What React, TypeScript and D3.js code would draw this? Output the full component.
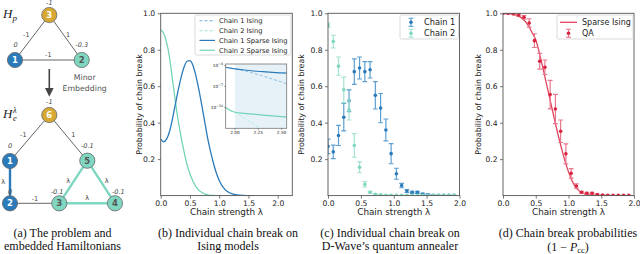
import * as d3 from "d3";
import { useEffect, useRef } from "react";

const SANS = "'DejaVu Sans', sans-serif";
const SERIF = "'Liberation Serif', 'Times New Roman', serif";

const blue = "#2b7bba";
const blueLight = "#8cc0e4";
const blueErr = "#5c9fd2";
const teal = "#72d4b8";
const tealLight = "#b2e9da";
const tealErr = "#a3e2d1";
const red = "#d8243f";
const redLine = "#e0445f";
const redErr = "#e9788c";
const gold = "#d8a932";
const nodeTeal = "#7fd6c1";

// (b) chain break on the sparse Ising models
const lambdaB = [0, 0.05, 0.1, 0.15, 0.2, 0.25, 0.3, 0.35, 0.4, 0.45, 0.5, 0.55, 0.6, 0.65, 0.7, 0.75, 0.8, 0.85, 0.9, 0.95, 1.0, 1.1, 1.2, 1.3, 1.4, 1.5, 1.6];
const chain1Sparse = [0.31, 0.295, 0.31, 0.35, 0.42, 0.5, 0.58, 0.65, 0.705, 0.737, 0.74, 0.715, 0.66, 0.585, 0.5, 0.41, 0.32, 0.245, 0.18, 0.125, 0.083, 0.033, 0.012, 0.004, 0.001, 0.0003, 0];
const chain2Sparse = [0.91, 0.89, 0.84, 0.76, 0.64, 0.52, 0.41, 0.32, 0.24, 0.17, 0.12, 0.08, 0.05, 0.03, 0.018, 0.009, 0.004, 0.0015, 0.0005, 0, 0, 0, 0, 0, 0, 0, 0];

// (b) inset, log scale
const lambdaInset = [1.9, 1.95, 2.0, 2.1, 2.2, 2.3, 2.4, 2.5, 2.56];
const inChain1Sparse = [5.5e-5, 4.0e-5, 3.2e-5, 2.2e-5, 1.6e-5, 1.26e-5, 1.0e-5, 8.5e-6, 7.8e-6];
const inChain1Ising = [5.5e-5, 4.0e-5, 3.2e-5, 1.66e-5, 7.6e-6, 3.0e-6, 1.15e-6, 4.2e-7, 2.3e-7];
const inChain2Sparse = [9.3e-11, 3.5e-11, 2.0e-11, 1.4e-11, 1.07e-11, 7.9e-12, 6.0e-12, 4.6e-12, 4.0e-12];
const inChain2Ising = [9.3e-11, 3.5e-11, 2.0e-11, 2.8e-12, 4.0e-13, 5.6e-14, 8e-15, 1e-15, 5e-16];
const insetYTicks = [1e-4, 1e-7, 1e-10];
const insetXTicks = [2.0, 2.25, 2.5];

// (c), (d) D-Wave runs
const lambdaQA = [0, 0.08, 0.16, 0.24, 0.32, 0.4, 0.48, 0.56, 0.64, 0.72, 0.8, 0.88, 0.96, 1.04, 1.12, 1.2, 1.28, 1.36, 1.44, 1.52, 1.6, 1.68, 1.76, 1.84, 1.92];
const chain1Mean = [0.27, 0.24, 0.33, 0.43, 0.52, 0.68, 0.7, 0.68, 0.69, 0.55, 0.48, 0.36, 0.23, 0.12, 0.055, 0.025, 0.018, 0.018, 0.009, 0.005, 0.002, 0.001, 0.001, 0.001, 0.001];
const chain1Err = [0.04, 0.037, 0.055, 0.075, 0.06, 0.07, 0.06, 0.055, 0.045, 0.075, 0.08, 0.06, 0.055, 0.03, 0.012, 0.008, 0.006, 0.006, 0.004, 0.003, 0.002, 0.001, 0.001, 0.001, 0.001];
const chain2Mean = [0.935, 0.845, 0.71, 0.58, 0.47, 0.275, 0.155, 0.062, 0.018, 0.007, 0.004, 0.002, 0.002, 0.001, 0.001, 0.001, 0.001, 0.001, 0.001, 0.001, 0.001, 0.001, 0.001, 0.001, 0.001];
const chain2Err = [0.012, 0.035, 0.05, 0.07, 0.055, 0.065, 0.03, 0.015, 0.005, 0.003, 0.002, 0.001, 0.001, 0.001, 0.001, 0.001, 0.001, 0.001, 0.001, 0.001, 0.001, 0.001, 0.001, 0.001, 0.001];
const qaMean = [1.0, 1.0, 0.997, 0.99, 0.978, 0.947, 0.85, 0.737, 0.704, 0.554, 0.475, 0.353, 0.229, 0.122, 0.053, 0.018, 0.013, 0.013, 0.006, 0.003, 0.002, 0.001, 0.001, 0.001, 0.001];
const qaErr = [0.003, 0.003, 0.005, 0.007, 0.01, 0.023, 0.038, 0.043, 0.04, 0.078, 0.08, 0.062, 0.055, 0.026, 0.012, 0.006, 0.005, 0.005, 0.003, 0.002, 0.001, 0.001, 0.001, 0.001, 0.001];

// (d) sparse Ising prediction
const lambdaD = [0, 0.1, 0.2, 0.3, 0.4, 0.45, 0.5, 0.55, 0.6, 0.65, 0.7, 0.75, 0.8, 0.85, 0.9, 0.95, 1.0, 1.05, 1.1, 1.15, 1.2, 1.3, 1.4, 1.5, 2.0];
const sparseD = [1.0, 0.998, 0.99, 0.97, 0.925, 0.89, 0.855, 0.79, 0.715, 0.635, 0.555, 0.475, 0.395, 0.32, 0.25, 0.185, 0.13, 0.085, 0.052, 0.03, 0.016, 0.005, 0.0015, 0, 0];

const xTicks = [0, 0.5, 1.0, 1.5, 2.0];
const yTicks = [0.2, 0.4, 0.6, 0.8, 1.0];

// (a) graph layout
const nodesTop = [
  { id: "3", x: 49.3, y: 15, fill: gold, text: "#fff" },
  { id: "1", x: 15, y: 60, fill: blue, text: "#fff" },
  { id: "2", x: 81.7, y: 60, fill: nodeTeal, text: "#555" },
];
const nodesBottom = [
  { id: "6", x: 49.3, y: 115, fill: gold, text: "#fff" },
  { id: "1", x: 10, y: 161, fill: blue, text: "#fff" },
  { id: "2", x: 10, y: 203.3, fill: blue, text: "#fff" },
  { id: "3", x: 59.3, y: 203.3, fill: nodeTeal, text: "#555" },
  { id: "4", x: 115, y: 203.3, fill: nodeTeal, text: "#555" },
  { id: "5", x: 87.3, y: 160.7, fill: nodeTeal, text: "#555" },
];

type Box = { left: number; right: number; top: number; bottom: number };
const boxB: Box = { left: 160.7, right: 292.3, top: 13.3, bottom: 195.6 };
const boxC: Box = { left: 328, right: 459.5, top: 13.3, bottom: 195.6 };
const boxD: Box = { left: 503, right: 634, top: 13.3, bottom: 195.6 };

const App = () => {
  const ref = useRef<SVGSVGElement>(null);

  useEffect(() => {
    const svg = d3.select(ref.current);
    svg.selectAll("*").remove();
    const defs = svg.append("defs");

    const clip = (id: string, b: Box) => {
      defs.append("clipPath").attr("id", id).append("rect")
        .attr("x", b.left).attr("y", b.top).attr("width", b.right - b.left).attr("height", b.bottom - b.top);
    };

    const axes = (g: any, x: any, y: any, b: Box, labelX: number) => {
      g.append("rect").attr("x", b.left).attr("y", b.top).attr("width", b.right - b.left)
        .attr("height", b.bottom - b.top).attr("fill", "none").attr("stroke", "#555").attr("stroke-width", 0.9);
      const xa = g.append("g").attr("transform", `translate(0,${b.bottom})`)
        .call(d3.axisBottom(x).tickValues(xTicks).tickFormat(d3.format(".1f")).tickSize(3).tickPadding(2));
      const ya = g.append("g").attr("transform", `translate(${b.left},0)`)
        .call(d3.axisLeft(y).tickValues(yTicks).tickFormat(d3.format(".1f")).tickSize(3).tickPadding(2.5));
      [xa, ya].forEach((a) => {
        a.select(".domain").remove();
        a.attr("font-family", SANS).attr("font-size", 7.6);
        a.selectAll("line").attr("stroke", "#555").attr("stroke-width", 0.8);
        a.selectAll("text").attr("fill", "#222");
      });
      g.append("text").attr("x", (b.left + b.right) / 2).attr("y", 214.5).attr("text-anchor", "middle")
        .attr("font-family", SANS).attr("font-size", 8.8).attr("fill", "#222").text("Chain strength λ");
      g.append("text").attr("transform", `translate(${labelX},${(b.top + b.bottom) / 2}) rotate(-90)`)
        .attr("text-anchor", "middle").attr("font-family", SANS).attr("font-size", 7.9).attr("fill", "#222")
        .text("Probability of chain break");
    };

    const errorBars = (g: any, x: any, y: any, ms: number[], es: number[], color: string, light: string) => {
      const pts = lambdaQA.map((l, i) => ({ l, m: ms[i], e: es[i] }));
      const cap = 2.4;
      const s = g.append("g").selectAll("g").data(pts).join("g");
      s.append("line").attr("x1", (d: any) => x(d.l)).attr("x2", (d: any) => x(d.l))
        .attr("y1", (d: any) => y(d.m - d.e)).attr("y2", (d: any) => y(d.m + d.e))
        .attr("stroke", light).attr("stroke-width", 1.2);
      [-1, 1].forEach((sgn) => {
        s.append("line").attr("x1", (d: any) => x(d.l) - cap).attr("x2", (d: any) => x(d.l) + cap)
          .attr("y1", (d: any) => y(d.m + sgn * d.e)).attr("y2", (d: any) => y(d.m + sgn * d.e))
          .attr("stroke", light).attr("stroke-width", 1.1);
      });
      s.append("circle").attr("cx", (d: any) => x(d.l)).attr("cy", (d: any) => y(d.m))
        .attr("r", 1.8).attr("fill", color);
    };

    const legendBox = (g: any, x0: number, y0: number, w: number, h: number) => {
      g.append("rect").attr("x", x0).attr("y", y0).attr("width", w).attr("height", h).attr("rx", 1.5)
        .attr("fill", "#fff").attr("fill-opacity", 0.85).attr("stroke", "#d0d0d0").attr("stroke-width", 0.8);
    };

    const errMarker = (g: any, cx: number, cy: number, color: string, light: string) => {
      g.append("line").attr("x1", cx).attr("x2", cx).attr("y1", cy - 4).attr("y2", cy + 4).attr("stroke", light).attr("stroke-width", 1.2);
      [-4, 4].forEach((d) => g.append("line").attr("x1", cx - 2.4).attr("x2", cx + 2.4).attr("y1", cy + d).attr("y2", cy + d)
        .attr("stroke", light).attr("stroke-width", 1.1));
      g.append("circle").attr("cx", cx).attr("cy", cy).attr("r", 1.8).attr("fill", color);
    };

    // ---------- (a) graph ----------
    const ga = svg.append("g");
    const edge = (a: any, b: any, color: string, w: number) =>
      ga.append("line").attr("x1", a.x).attr("y1", a.y).attr("x2", b.x).attr("y2", b.y).attr("stroke", color).attr("stroke-width", w);
    const nt = (id: string) => nodesTop.find((n) => n.id === id);
    const nb = (id: string) => nodesBottom.find((n) => n.id === id);
    edge(nt("3"), nt("1"), "#666", 1);
    edge(nt("3"), nt("2"), "#666", 1);
    edge(nt("1"), nt("2"), "#666", 1);
    edge(nb("6"), nb("1"), "#666", 1);
    edge(nb("6"), nb("5"), "#666", 1);
    edge(nb("2"), nb("3"), "#666", 1);
    edge(nb("1"), nb("2"), blue, 2.4);
    edge(nb("3"), nb("4"), nodeTeal, 2.4);
    edge(nb("3"), nb("5"), nodeTeal, 2.4);
    edge(nb("4"), nb("5"), nodeTeal, 2.4);
    [...nodesTop, ...nodesBottom].forEach((n) => {
      ga.append("circle").attr("cx", n.x).attr("cy", n.y).attr("r", 7.6).attr("fill", n.fill).attr("stroke", "#666").attr("stroke-width", 0.8);
      ga.append("text").attr("x", n.x).attr("y", n.y + 3).attr("text-anchor", "middle").attr("font-family", SANS)
        .attr("font-size", 8.5).attr("font-weight", "bold").attr("fill", n.text).text(n.id);
    });
    const lab = (x: number, y: number, t: string, italic = false) =>
      ga.append("text").attr("x", x).attr("y", y).attr("text-anchor", "middle").attr("font-family", SANS)
        .attr("font-size", 6.5).attr("font-style", italic ? "italic" : "normal").attr("fill", "#444").text(t);
    lab(49.3, 5, "-1", true);
    lab(15.5, 47, "0", true);
    lab(81.7, 47, "-0.3", true);
    lab(26.3, 36.5, "-1");
    lab(68, 36.5, "1");
    lab(48.3, 56.5, "-1");
    lab(49.3, 104, "-1", true);
    lab(23.3, 137, "-1");
    lab(73.3, 137, "1");
    lab(10, 147.5, "0", true);
    lab(87.3, 147.5, "-0.1", true);
    lab(3.3, 183.5, "λ");
    lab(10, 193.5, "0", true);
    lab(57, 193.5, "-0.1", true);
    lab(118.3, 193.5, "-0.1", true);
    lab(68.3, 183, "λ");
    lab(106.7, 183, "λ");
    lab(87.3, 200, "λ");
    lab(35, 201, "-1");
    ga.append("text").attr("x", 84.7).attr("y", 80).attr("text-anchor", "middle").attr("font-family", SANS)
      .attr("font-size", 7.8).attr("fill", "#555").text("Minor");
    ga.append("text").attr("x", 84.7).attr("y", 90.7).attr("text-anchor", "middle").attr("font-family", SANS)
      .attr("font-size", 7.8).attr("fill", "#555").text("Embedding");
    ga.append("line").attr("x1", 49.3).attr("x2", 49.3).attr("y1", 69).attr("y2", 89).attr("stroke", "#444").attr("stroke-width", 1.6);
    ga.append("path").attr("d", "M45,88 L53.6,88 L49.3,96.7 Z").attr("fill", "#444");
    const hp = ga.append("text").attr("x", 3).attr("y", 18).attr("font-family", SERIF).attr("font-style", "italic")
      .attr("font-size", 13).attr("fill", "#222");
    hp.append("tspan").text("H");
    hp.append("tspan").attr("font-size", 9).attr("dy", 3).text("p");
    const he = ga.append("text").attr("y", 118).attr("font-family", SERIF).attr("font-style", "italic")
      .attr("font-size", 13).attr("fill", "#222");
    he.append("tspan").attr("x", 3).text("H");
    he.append("tspan").attr("x", 13).attr("dy", -5.5).attr("font-size", 8.5).text("λ");
    he.append("tspan").attr("x", 13).attr("dy", 8.5).attr("font-size", 8.5).text("e");

    // ---------- (b) ----------
    clip("clipB", boxB);
    const gb = svg.append("g");
    const xb = d3.scaleLinear().domain([0, 2.25]).range([boxB.left, boxB.right]);
    const yb = d3.scaleLinear().domain([0, 1]).range([boxB.bottom, boxB.top]);
    const lineB = (ys: number[]) => d3.line<number>().x((_, i) => xb(lambdaB[i])).y((d) => yb(d)).curve(d3.curveMonotoneX)(ys);
    const pb = gb.append("g").attr("clip-path", "url(#clipB)");
    pb.append("path").attr("d", lineB(chain2Sparse)).attr("fill", "none").attr("stroke", teal).attr("stroke-width", 1.3);
    pb.append("path").attr("d", lineB(chain1Sparse)).attr("fill", "none").attr("stroke", blue).attr("stroke-width", 1.3);
    axes(gb, xb, yb, boxB, 141.5);

    legendBox(gb, 195, 15, 96, 40);
    const legB = [
      { t: "Chain 1 Ising", c: blueLight, dash: "3,2" },
      { t: "Chain 2 Ising", c: tealLight, dash: "3,2" },
      { t: "Chain 1 Sparse Ising", c: blue, dash: null },
      { t: "Chain 2 Sparse Ising", c: teal, dash: null },
    ];
    legB.forEach((d, i) => {
      const cy = 20.7 + i * 9.85;
      gb.append("line").attr("x1", 199.5).attr("x2", 215).attr("y1", cy).attr("y2", cy).attr("stroke", d.c)
        .attr("stroke-width", 1.2).attr("stroke-dasharray", d.dash);
      gb.append("text").attr("x", 219).attr("y", cy + 2.4).attr("font-family", SANS).attr("font-size", 6.7)
        .attr("fill", "#222").text(d.t);
    });

    // inset
    const boxI: Box = { left: 225.7, right: 286.7, top: 64, bottom: 128.3 };
    clip("clipI", boxI);
    const xi = d3.scaleLinear().domain([1.9, 2.555]).range([boxI.left, boxI.right]);
    const yi = d3.scaleLog().domain([1e-13, 1.6e-4]).range([boxI.bottom, boxI.top]);
    gb.append("rect").attr("x", boxI.left).attr("y", boxI.top).attr("width", boxI.right - boxI.left)
      .attr("height", boxI.bottom - boxI.top).attr("fill", "#fff");
    gb.append("rect").attr("x", xi(2.0)).attr("y", boxI.top).attr("width", boxI.right - xi(2.0))
      .attr("height", boxI.bottom - boxI.top).attr("fill", "#e7f1f8");
    const pi = gb.append("g").attr("clip-path", "url(#clipI)");
    const lineI = (ys: number[]) => d3.line<number>().x((_, i) => xi(lambdaInset[i])).y((d) => yi(d)).curve(d3.curveMonotoneX)(ys);
    pi.append("path").attr("d", lineI(inChain1Ising)).attr("fill", "none").attr("stroke", blueLight).attr("stroke-width", 1).attr("stroke-dasharray", "3,2");
    pi.append("path").attr("d", lineI(inChain2Ising)).attr("fill", "none").attr("stroke", tealLight).attr("stroke-width", 1).attr("stroke-dasharray", "3,2");
    pi.append("path").attr("d", lineI(inChain1Sparse)).attr("fill", "none").attr("stroke", blue).attr("stroke-width", 1.2);
    pi.append("path").attr("d", lineI(inChain2Sparse)).attr("fill", "none").attr("stroke", teal).attr("stroke-width", 1.2);
    gb.append("rect").attr("x", boxI.left).attr("y", boxI.top).attr("width", boxI.right - boxI.left)
      .attr("height", boxI.bottom - boxI.top).attr("fill", "none").attr("stroke", "#777").attr("stroke-width", 0.8);
    insetYTicks.forEach((v) => {
      gb.append("line").attr("x1", boxI.left - 1.5).attr("x2", boxI.left).attr("y1", yi(v)).attr("y2", yi(v)).attr("stroke", "#555").attr("stroke-width", 0.6);
      const t = gb.append("text").attr("x", boxI.left - 2.5).attr("y", yi(v) + 1.5).attr("text-anchor", "end")
        .attr("font-family", SANS).attr("font-size", 4.3).attr("fill", "#222");
      t.append("tspan").text("10");
      t.append("tspan").attr("dy", -1.8).attr("font-size", 3.3).text("−" + Math.round(-Math.log10(v)));
    });
    insetXTicks.forEach((v) => {
      gb.append("line").attr("x1", xi(v)).attr("x2", xi(v)).attr("y1", boxI.bottom).attr("y2", boxI.bottom + 1.5).attr("stroke", "#555").attr("stroke-width", 0.6);
      gb.append("text").attr("x", xi(v)).attr("y", boxI.bottom + 5.8).attr("text-anchor", "middle")
        .attr("font-family", SANS).attr("font-size", 4.3).attr("fill", "#222").text(d3.format(".2f")(v));
    });

    // ---------- (c) ----------
    clip("clipC", boxC);
    const gc = svg.append("g");
    const xc = d3.scaleLinear().domain([0, 2.0]).range([boxC.left, boxC.right]);
    const yc = d3.scaleLinear().domain([0, 1]).range([boxC.bottom, boxC.top]);
    const pc = gc.append("g").attr("clip-path", "url(#clipC)");
    errorBars(pc, xc, yc, chain1Mean, chain1Err, blue, blueErr);
    errorBars(pc, xc, yc, chain2Mean, chain2Err, nodeTeal, tealErr);
    axes(gc, xc, yc, boxC, 304);
    legendBox(gc, 400, 15, 58.5, 24);
    errMarker(gc, 411, 22.3, blue, blueErr);
    errMarker(gc, 411, 33.3, nodeTeal, tealErr);
    gc.append("text").attr("x", 424).attr("y", 25.2).attr("font-family", SANS).attr("font-size", 8.2).attr("fill", "#222").text("Chain 1");
    gc.append("text").attr("x", 424).attr("y", 36.2).attr("font-family", SANS).attr("font-size", 8.2).attr("fill", "#222").text("Chain 2");

    // ---------- (d) ----------
    clip("clipD", boxD);
    const gd = svg.append("g");
    const xd = d3.scaleLinear().domain([0, 2.0]).range([boxD.left, boxD.right]);
    const yd = d3.scaleLinear().domain([0, 1]).range([boxD.bottom, boxD.top]);
    const pd = gd.append("g").attr("clip-path", "url(#clipD)");
    const lineD = d3.line<number>().x((_, i) => xd(lambdaD[i])).y((d) => yd(d)).curve(d3.curveMonotoneX);
    pd.append("path").attr("d", lineD(sparseD)).attr("fill", "none").attr("stroke", redLine).attr("stroke-width", 1.3);
    errorBars(pd, xd, yd, qaMean, qaErr, red, redErr);
    axes(gd, xd, yd, boxD, 481);
    legendBox(gd, 557, 15, 76, 24);
    gd.append("line").attr("x1", 560).attr("x2", 577).attr("y1", 22.3).attr("y2", 22.3).attr("stroke", redLine).attr("stroke-width", 1.3);
    errMarker(gd, 568.5, 33.3, red, redErr);
    gd.append("text").attr("x", 582).attr("y", 25.2).attr("font-family", SANS).attr("font-size", 8).attr("fill", "#222").text("Sparse Ising");
    gd.append("text").attr("x", 582).attr("y", 36.2).attr("font-family", SANS).attr("font-size", 8).attr("fill", "#222").text("QA");

    // ---------- captions ----------
    const cap = (x: number, y: number) =>
      svg.append("text").attr("x", x).attr("y", y).attr("text-anchor", "middle").attr("font-family", SERIF)
        .attr("font-size", 12).attr("fill", "#111");
    cap(62.5, 237).text("(a) The problem and");
    cap(62.5, 250).text("embedded Hamiltonians");
    cap(228, 237).text("(b) Individual chain break on");
    cap(228, 250).text("Ising models");
    cap(390, 237).text("(c) Individual chain break on");
    cap(390, 250).text("D-Wave’s quantum annealer");
    cap(568, 237).text("(d) Chain break probabilities");
    const last = cap(568, 250.5);
    last.append("tspan").text("(1  −  ");
    last.append("tspan").attr("font-style", "italic").text("P");
    last.append("tspan").attr("font-size", 8.5).attr("dy", 2.5).text("cc");
    last.append("tspan").attr("dy", -2.5).text(")");
  }, []);

  return (
    <svg ref={ref} width={640} height={254}
      style={{ position: "absolute", left: 0, top: 0, background: "#fff" }} />
  );
};

export default App;
